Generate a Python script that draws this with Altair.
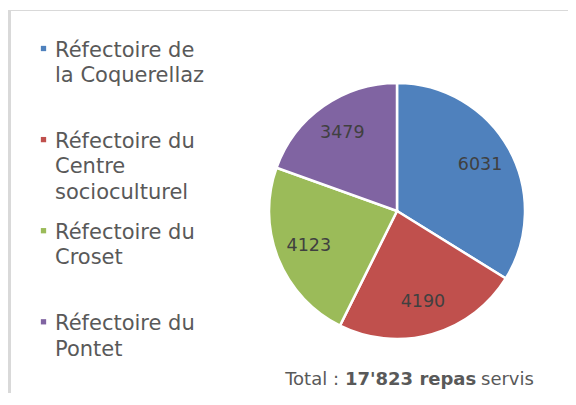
import altair as alt
import pandas as pd

categories = ["Réfectoire de la Coquerellaz", "Réfectoire du Centre socioculturel",
              "Réfectoire du Croset", "Réfectoire du Pontet"]
legend_lines = ["Réfectoire de\nla Coquerellaz", "Réfectoire du\nCentre\nsocioculturel",
                "Réfectoire du\nCroset", "Réfectoire du\nPontet"]
values = [6031, 4190, 4123, 3479]
colors = ["#4f81bd", "#c0504d", "#9bbb59", "#8064a2"]
total_parts = ["Total :", "17'823 repas", "servis"]

FONT = "DejaVu Sans"
W, H = 560, 385
CX, CY, R = 389, 203, 128

pie_df = pd.DataFrame({"cat": categories, "value": values, "idx": list(range(len(values)))})
leg_df = pd.DataFrame({"cat": categories, "label": legend_lines})

color = alt.Color("cat:N", scale=alt.Scale(domain=categories, range=colors), legend=None)
theta = alt.Theta("value:Q", stack=True)
order = alt.Order("idx:Q")

base = alt.Chart(pie_df)
arcs = base.mark_arc(outerRadius=R, stroke="white", strokeWidth=2.5).encode(
    theta=theta, color=color, order=order, x=alt.value(CX), y=alt.value(CY))
labels = base.mark_text(radius=95, font=FONT, fontSize=17.5, color="#404040").encode(
    theta=theta, order=order, text=alt.Text("value:Q", format="d"),
    x=alt.value(CX), y=alt.value(CY))

ly = alt.Y("cat:N", scale=alt.Scale(type="point", domain=categories, range=[48.7, 322], padding=0),
           axis=None)
leg_sq = alt.Chart(leg_df).mark_point(shape="square", filled=True, size=28, opacity=1, yOffset=-8.2).encode(
    x=alt.value(35.5), y=ly, color=color)
leg_tx = alt.Chart(leg_df).mark_text(align="left", baseline="alphabetic", font=FONT, fontSize=21,
                                     color="#595959", lineBreak="\n", lineHeight=25.5).encode(
    x=alt.value(47), y=ly, text="label:N")

tot_df = pd.DataFrame({"t": total_parts})
t1 = alt.Chart(tot_df).transform_filter(alt.datum.t == total_parts[0]).mark_text(
    align="right", baseline="alphabetic", font=FONT, fontSize=18, color="#595959").encode(
    x=alt.value(331), y=alt.value(377), text="t:N")
t2 = alt.Chart(tot_df).transform_filter(alt.datum.t == total_parts[1]).mark_text(
    align="left", baseline="alphabetic", font=FONT, fontSize=18, fontWeight="bold", color="#595959").encode(
    x=alt.value(337), y=alt.value(377), text="t:N")
t3 = alt.Chart(tot_df).transform_filter(alt.datum.t == total_parts[2]).mark_text(
    align="left", baseline="alphabetic", font=FONT, fontSize=18, color="#595959").encode(
    x=alt.value(473), y=alt.value(377), text="t:N")

top_line = alt.Chart(tot_df.head(1)).mark_rule(color="#d9d9d9", strokeWidth=1).encode(
    x=alt.value(0), x2=alt.value(W), y=alt.value(2.5))
left_bar = alt.Chart(tot_df.head(1)).mark_rule(color="#d9d9d9", strokeWidth=3).encode(
    x=alt.value(1.5), y=alt.value(2), y2=alt.value(H))

chart = alt.layer(top_line, left_bar, arcs, labels, leg_sq, leg_tx, t1, t2, t3).properties(
    width=W, height=H, padding=0, autosize=alt.AutoSizeParams(type="none"),
    background="white"
).configure_view(stroke=None)

chart.save("out.html", embed_options={"renderer": "svg", "actions": False})
